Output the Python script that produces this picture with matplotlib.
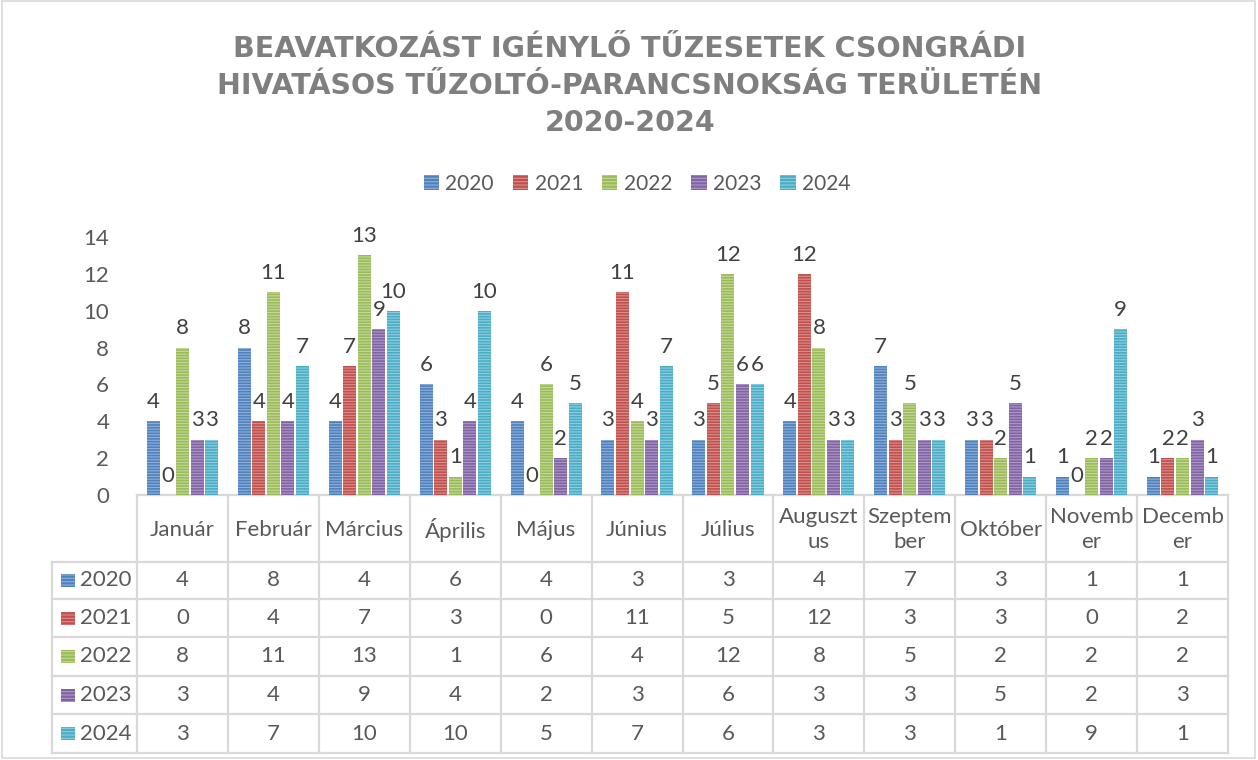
import matplotlib.pyplot as plt
from matplotlib.patches import Rectangle
import numpy as np

plt.rcParams['font.family'] = ['Lato', 'DejaVu Sans']
plt.rcParams['hatch.linewidth'] = 0.8

months = ['Január', 'Február', 'Március', 'Április', 'Május', 'Június', 'Július',
          'Auguszt\nus', 'Szeptem\nber', 'Október', 'Novemb\ner', 'Decemb\ner']
years = ['2020', '2021', '2022', '2023', '2024']
v2020 = [4, 8, 4, 6, 4, 3, 3, 4, 7, 3, 1, 1]
v2021 = [0, 4, 7, 3, 0, 11, 5, 12, 3, 3, 0, 2]
v2022 = [8, 11, 13, 1, 6, 4, 12, 8, 5, 2, 2, 2]
v2023 = [3, 4, 9, 4, 2, 3, 6, 3, 3, 5, 2, 3]
v2024 = [3, 7, 10, 10, 5, 7, 6, 3, 3, 1, 9, 1]
series = [v2020, v2021, v2022, v2023, v2024]
colors = ['#4F81BD', '#C0504D', '#9BBB59', '#8064A2', '#4BACC6']
stripes = ['#8FB0DA', '#DC8E8B', '#C3D99A', '#AE97C8', '#8CCFE0']

W, H = 1258, 760
txt = '#595959'
grid = '#D9D9D9'
fs = 16

fig = plt.figure(figsize=(W / 100, H / 100), dpi=100)

# plot area (pixel layout)
left, right, top, bottom = 137, 1228, 237, 495
ax = fig.add_axes([left / W, (H - bottom) / H, (right - left) / W, (bottom - top) / H])
x = np.arange(len(months))
step, bw = 0.16, 0.143
for i, (vals, c, s) in enumerate(zip(series, colors, stripes)):
    pos = x + (i - 2) * step
    ax.bar(pos, vals, bw, color=c, linewidth=0)
    ax.bar(pos, vals, bw, color='none', edgecolor=s, hatch='------', linewidth=0)
    for px, v in zip(pos, vals):
        ax.text(px, v + 0.5, str(v), ha='center', va='bottom', fontsize=fs, color='#404040')

ax.set_xlim(-0.5, len(months) - 0.5)
ax.set_ylim(0, 14)
ax.set_yticks(range(0, 15, 2))
ax.tick_params(axis='y', length=0, pad=20, labelsize=fs, labelcolor=txt)
ax.set_xticks([])
for sp in ax.spines.values():
    sp.set_visible(False)
ax.patch.set_alpha(0)

# data table drawn in pixel space
tab = fig.add_axes([0, 0, 1, 1], zorder=-1)
tab.set_xlim(0, W)
tab.set_ylim(H, 0)
tab.axis('off')
tab.add_patch(Rectangle((2, 1), W - 5, H - 3, fill=False, edgecolor=grid, lw=1.2))

cw = (right - left) / len(months)
hdr_bot = 562
rows = [562, 599, 637, 676, 714, 753]
lab_left = 52
lw = 1.6
# horizontal lines
tab.plot([left, right], [bottom, bottom], color=grid, lw=lw)
for yy in rows:
    tab.plot([lab_left, right], [yy, yy], color=grid, lw=lw)
# vertical lines
tab.plot([lab_left, lab_left], [rows[0], rows[-1]], color=grid, lw=lw)
for j in range(len(months) + 1):
    xx = left + j * cw
    tab.plot([xx, xx], [bottom, rows[-1]], color=grid, lw=lw)

for j, m in enumerate(months):
    tab.text(left + (j + 0.5) * cw, (bottom + hdr_bot) / 2 + 1, m, ha='center', va='center',
             fontsize=fs, color=txt, linespacing=1.3)
for r, (yr, vals, c, s) in enumerate(zip(years, series, colors, stripes)):
    yc = (rows[r] + rows[r + 1]) / 2
    tab.add_patch(Rectangle((61, yc - 6.5), 14, 13, facecolor=c, edgecolor=s, hatch='-----', lw=0))
    tab.text(80, yc, yr, ha='left', va='center', fontsize=fs, color=txt)
    for j, v in enumerate(vals):
        tab.text(left + (j + 0.5) * cw, yc, str(v), ha='center', va='center', fontsize=fs, color=txt)

# legend
handles = [Rectangle((0, 0), 1, 1, facecolor=c, edgecolor=s, hatch='-----', lw=0)
           for c, s in zip(colors, stripes)]
fig.legend(handles, years, loc='center', bbox_to_anchor=(637 / W, (H - 184) / H), ncol=5,
           frameon=False, fontsize=15, labelcolor=txt, handlelength=0.75, handleheight=0.75,
           handletextpad=0.3, columnspacing=0.9)

fig.text(630 / W, (H - 86) / H,
         'BEAVATKOZÁST IGÉNYLŐ TŰZESETEK CSONGRÁDI\nHIVATÁSOS TŰZOLTÓ-PARANCSNOKSÁG TERÜLETÉN\n2020-2024',
         ha='center', va='center', fontsize=20.5, fontweight='bold', color='#7F7F7F',
         family=['DejaVu Sans'], linespacing=1.42)

fig.savefig('out.png', dpi=100)
